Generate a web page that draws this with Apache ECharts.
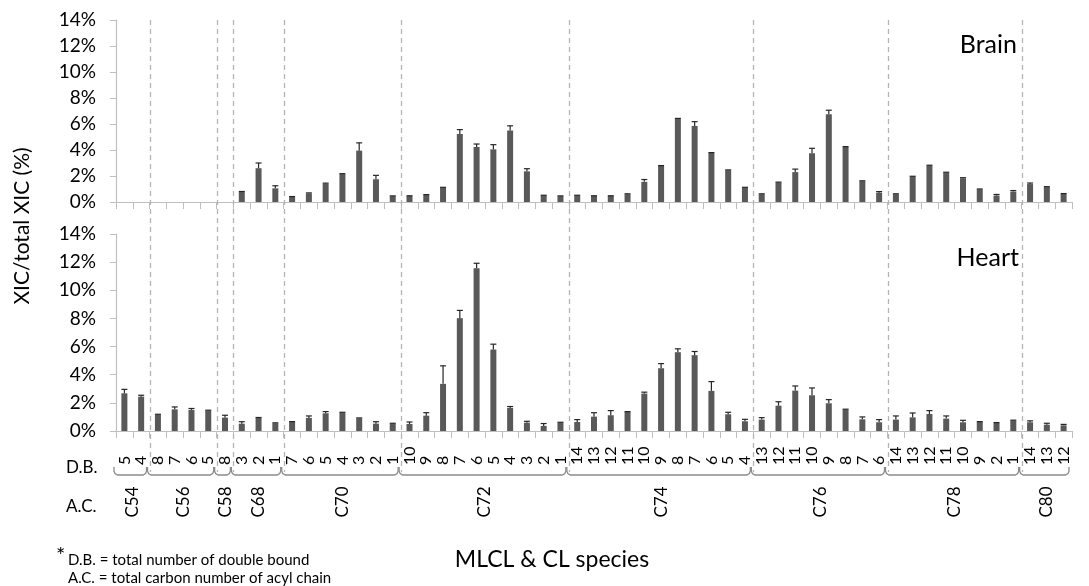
<!DOCTYPE html>
<html>
<head>
<meta charset="utf-8">
<script src="https://cdn.jsdelivr.net/npm/echarts@6/dist/echarts.min.js"></script>
<style>
  html, body { margin: 0; padding: 0; background: #fff; }
  #chart { width: 1089px; height: 586px; }
</style>
</head>
<body>
<div id="chart"></div>
<script>
// acyl chain groups and the double bond counts inside each
const groups = ['C54', 'C56', 'C58', 'C68', 'C70', 'C72', 'C74', 'C76', 'C78', 'C80']
const dbByGroup = [
  [5, 4],
  [8, 7, 6, 5],
  [8],
  [3, 2, 1],
  [7, 6, 5, 4, 3, 2, 1],
  [10, 9, 8, 7, 6, 5, 4, 3, 2, 1],
  [14, 13, 12, 11, 10, 9, 8, 7, 6, 5, 4],
  [13, 12, 11, 10, 9, 8, 7, 6],
  [14, 13, 12, 11, 10, 9, 2, 1],
  [14, 13, 12]
]

// XIC / total XIC (%), mean and error
const brainMean = [
  0, 0, 0, 0, 0, 0, 0,
  0.78, 2.6, 1.05,
  0.4, 0.65, 1.4, 2.15, 3.95, 1.75, 0.45,
  0.46, 0.54, 1.1, 5.23, 4.23, 4.05, 5.5, 2.36, 0.5, 0.45,
  0.5, 0.46, 0.46, 0.6, 1.55, 2.77, 6.4, 5.85, 3.77, 2.44, 1.1,
  0.6, 1.5, 2.3, 3.75, 6.75, 4.23, 1.6, 0.72,
  0.6, 1.95, 2.8, 2.26, 1.82, 0.97, 0.5, 0.8,
  1.38, 1.15, 0.62
]
const brainErr = [
  0, 0, 0, 0, 0, 0, 0,
  0.03, 0.4, 0.2,
  0.02, 0.05, 0.05, 0.03, 0.6, 0.3, 0.02,
  0.02, 0.03, 0.03, 0.34, 0.23, 0.36, 0.36, 0.2, 0.02, 0.02,
  0.02, 0.02, 0.02, 0.03, 0.18, 0.03, 0.03, 0.33, 0.03, 0.03, 0.03,
  0.03, 0.03, 0.23, 0.38, 0.31, 0.03, 0.03, 0.08,
  0.03, 0.03, 0.03, 0.03, 0.05, 0.03, 0.08, 0.08,
  0.08, 0.03, 0.03
]
const heartMean = [
  2.68, 2.44,
  1.16, 1.54, 1.5, 1.45,
  0.95,
  0.52, 0.93, 0.55,
  0.64, 0.93, 1.26, 1.3, 0.9, 0.52, 0.52,
  0.5, 1.09, 3.35, 8.02, 11.56, 5.79, 1.64, 0.59, 0.36, 0.59,
  0.64, 1.02, 1.12, 1.35, 2.66, 4.46, 5.6, 5.39, 2.85, 1.19, 0.69,
  0.81, 1.8, 2.87, 2.54, 1.97, 1.52, 0.83, 0.62,
  0.81, 0.97, 1.21, 0.88, 0.62, 0.64, 0.57, 0.74,
  0.62, 0.45, 0.4
]
const heartErr = [
  0.28, 0.1,
  0.03, 0.17, 0.1, 0.03,
  0.17,
  0.14, 0.03, 0.03,
  0.03, 0.14, 0.12, 0.03, 0.03, 0.14, 0.03,
  0.14, 0.21, 1.28, 0.55, 0.36, 0.38, 0.1, 0.1, 0.17, 0.03,
  0.17, 0.28, 0.33, 0.03, 0.1, 0.33, 0.24, 0.26, 0.66, 0.14, 0.14,
  0.14, 0.28, 0.33, 0.52, 0.26, 0.03, 0.17, 0.19,
  0.26, 0.31, 0.24, 0.19, 0.14, 0.03, 0.03, 0.03,
  0.1, 0.1, 0.07
]
const yTicks = [0, 2, 4, 6, 8, 10, 12, 14]

const categories = []
const groupSpans = []
groups.forEach((g, k) => {
  const start = categories.length
  dbByGroup[k].forEach(d => categories.push(g + '|' + d))
  groupSpans.push([start, categories.length - 1])
})

const font = 'Lato, "Open Sans", sans-serif'
const axisGray = '#bfbfbf'
const barColor = '#595959'

const chartDom = document.getElementById('chart')
const chart = echarts.init(chartDom)

const errorItem = (params, api) => {
  const mean = api.value(1)
  if (!(mean > 0)) return null
  const err = api.value(2)
  const base = api.coord([api.value(0), mean])
  const top = api.coord([api.value(0), mean + err])
  const style = { stroke: '#262626', lineWidth: 1.2 }
  return {
    type: 'group',
    children: [
      { type: 'line', shape: { x1: base[0], y1: base[1], x2: top[0], y2: top[1] }, style },
      { type: 'line', shape: { x1: top[0] - 3, y1: top[1], x2: top[0] + 3, y2: top[1] }, style }
    ]
  }
}

const makeX = (gridIndex, showLabels) => ({
  type: 'category',
  gridIndex,
  data: categories,
  boundaryGap: true,
  axisLine: { lineStyle: { color: axisGray, width: 1.2 } },
  axisTick: { show: true, interval: 0, length: 7, lineStyle: { color: axisGray } },
  axisLabel: {
    show: showLabels,
    interval: 0,
    rotate: 90,
    align: 'left',
    verticalAlign: 'middle',
    margin: 34,
    fontSize: 16,
    fontFamily: font,
    color: '#000',
    formatter: v => v.split('|')[1]
  },
  splitLine: { show: false }
})

const makeY = gridIndex => ({
  type: 'value',
  gridIndex,
  min: yTicks[0],
  max: yTicks[yTicks.length - 1],
  interval: yTicks[1] - yTicks[0],
  axisLine: { show: true, lineStyle: { color: axisGray, width: 1.2 } },
  axisTick: { show: true, length: 6, lineStyle: { color: axisGray } },
  axisLabel: { fontSize: 19, fontFamily: font, color: '#000', margin: 20, formatter: '{value}%' },
  splitLine: { show: false }
})

const option = {
  animation: false,
  grid: [
    { left: 116, right: 17, top: 20, height: 182 },
    { left: 116, right: 17, top: 234, height: 197 }
  ],
  xAxis: [makeX(0, false), makeX(1, true)],
  yAxis: [makeY(0), makeY(1)],
  series: [
    {
      name: 'Brain', type: 'bar', xAxisIndex: 0, yAxisIndex: 0,
      data: brainMean, barWidth: 6, itemStyle: { color: barColor }
    },
    {
      name: 'Brain err', type: 'custom', xAxisIndex: 0, yAxisIndex: 0,
      renderItem: errorItem,
      data: brainMean.map((m, i) => [i, m, brainErr[i]]),
      z: 3
    },
    {
      name: 'Heart', type: 'bar', xAxisIndex: 1, yAxisIndex: 1,
      data: heartMean, barWidth: 6, itemStyle: { color: barColor }
    },
    {
      name: 'Heart err', type: 'custom', xAxisIndex: 1, yAxisIndex: 1,
      renderItem: errorItem,
      data: heartMean.map((m, i) => [i, m, heartErr[i]]),
      z: 3
    }
  ]
}

chart.setOption(option)

// overlay: dividers, braces, group names and free text
const xPix = i => chart.convertToPixel({ xAxisIndex: 1 }, i)
const halfW = (xPix(1) - xPix(0)) / 2
const bound = i => xPix(i) - halfW

const text = (str, x, y, size, extra) => Object.assign({
  type: 'text', x, y,
  style: { text: str, fontSize: size, fontFamily: font, fill: '#000', align: 'left', verticalAlign: 'middle' }
}, extra || {})

const graphics = []
groupSpans.forEach(([s, e], k) => {
  if (k > 0) {
    const x = Math.round(bound(s)) + 0.5
    graphics.push({
      type: 'line', shape: { x1: x, y1: 20, x2: x, y2: 472 },
      style: { stroke: '#b4b4b4', lineWidth: 1.3, lineDash: [5, 4] }, z: 1
    })
  }
  // curly bracket under each group
  const x0 = bound(s) - 2
  const x1 = bound(e + 1) - 3
  graphics.push({
    type: 'polyline',
    shape: {
      points: [
        [x0, 467], [x0, 471], [x0 + 1, 473.5], [x0 + 3.5, 475],
        [x1 - 3.5, 475], [x1 - 1, 473.5], [x1, 471], [x1, 467]
      ]
    },
    style: { stroke: '#8c8c8c', lineWidth: 1.3, fill: null }
  })
  const t = text(groups[k], (bound(s) + bound(e + 1)) / 2, 502, 17)
  t.rotation = Math.PI / 2
  t.style.align = 'center'
  graphics.push(t)
})

const yTitle = text('XIC/total XIC (%)', 22, 226, 21)
yTitle.rotation = Math.PI / 2
yTitle.style.align = 'center'
graphics.push(yTitle)

const brain = text('Brain', 1017, 45, 25)
brain.style.align = 'right'
graphics.push(brain)
const heart = text('Heart', 1019, 258, 25)
heart.style.align = 'right'
graphics.push(heart)

graphics.push(text('D.B.', 66, 468, 17))
graphics.push(text('A.C.', 66, 507, 17))
graphics.push(text('*', 56, 556, 22))
graphics.push(text('D.B. = total number of double bound', 68, 560, 15))
graphics.push(text('A.C. = total carbon number of acyl chain', 68, 578, 15))
const xTitle = text('MLCL & CL species', 552, 560, 23)
xTitle.style.align = 'center'
graphics.push(xTitle)

chart.setOption({ graphic: graphics })

window.addEventListener('resize', () => chart.resize())
</script>
</body>
</html>
